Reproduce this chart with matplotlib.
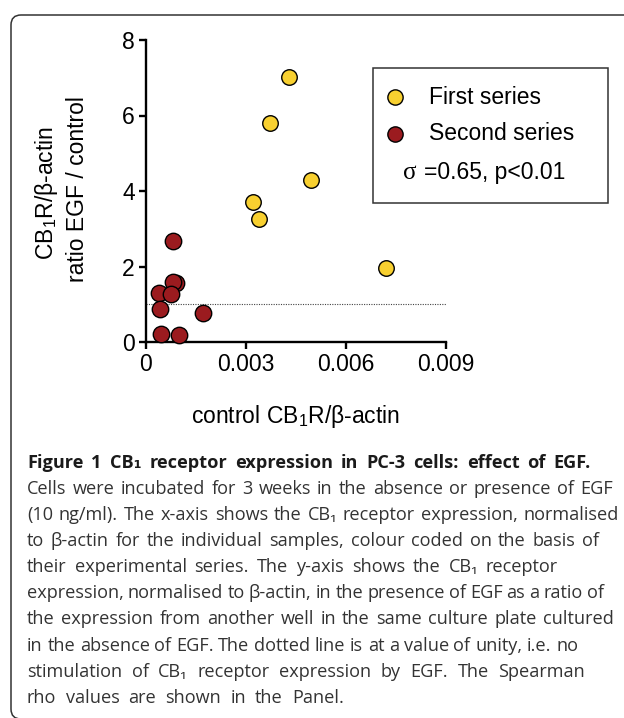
import matplotlib
matplotlib.use("Agg")
import matplotlib.pyplot as plt
from matplotlib.patches import FancyBboxPatch, Rectangle
from matplotlib.lines import Line2D
from matplotlib.transforms import IdentityTransform

plt.rcParams['font.family'] = ['Liberation Sans', 'DejaVu Sans']
plt.rcParams['mathtext.fontset'] = 'custom'
plt.rcParams['mathtext.rm'] = 'Liberation Sans'
plt.rcParams['mathtext.it'] = 'Liberation Sans:italic'

# data
first_x = [0.00428, 0.00371, 0.00494, 0.00320, 0.00338, 0.00720]
first_y = [7.03, 5.79, 4.28, 3.72, 3.25, 1.96]
second_x = [0.00081, 0.00090, 0.00082, 0.00040, 0.00076, 0.00042, 0.00170, 0.00044, 0.00098]
second_y = [2.68, 1.55, 1.60, 1.30, 1.27, 0.87, 0.76, 0.22, 0.19]

xticks = [0, 0.003, 0.006, 0.009]
xticklabels = ['0', '0.003', '0.006', '0.009']
yticks = [0, 2, 4, 6, 8]

caption_title = "Figure 1 CB\u2081 receptor expression in PC-3 cells: effect of EGF."
caption_lines = [
    ("Cells were incubated for 3 weeks in the absence or presence of EGF", 613),
    ("(10 ng/ml). The x-axis shows the CB\u2081 receptor expression, normalised", 619),
    ("to \u03b2-actin for the individual samples, colour coded on the basis of", 599),
    ("their experimental series. The y-axis shows the CB\u2081 receptor", 558),
    ("expression, normalised to \u03b2-actin, in the presence of EGF as a ratio of", 604),
    ("the expression from another well in the same culture plate cultured", 614),
    ("in the absence of EGF. The dotted line is at a value of unity, i.e. no", 578),
    ("stimulation of CB\u2081 receptor expression by EGF. The Spearman", 585),
    ("rho values are shown in the Panel.", 344),
]

W, H = 624, 718
fig = plt.figure(figsize=(W / 100, H / 100), dpi=100)


def fx(x):
    return x / W


def fy(y):
    return 1 - y / H


# outer panel frame
frame = FancyBboxPatch((11, -1), 700, 704, boxstyle="round,pad=0,rounding_size=10",
                       transform=IdentityTransform(), fc='none', ec='#333333', lw=1.1)
fig.add_artist(frame)

ax = fig.add_axes([fx(146), fy(342), 300 / W, 302 / H])
ax.set_xlim(0, 0.009)
ax.set_ylim(0, 8)
for s in ['top', 'right']:
    ax.spines[s].set_visible(False)
for s in ['left', 'bottom']:
    ax.spines[s].set_linewidth(1.7)
ax.set_xticks(xticks)
ax.set_xticklabels(xticklabels)
ax.set_yticks(yticks)
ax.tick_params(width=1.7, length=5, labelsize=16.5, pad=3)

ax.axhline(1, ls=(0, (1, 1.2)), color='#444444', lw=0.8, zorder=1)
ax.scatter(first_x, first_y, s=125, c='#F8D030', edgecolors='black', linewidths=1.0,
           zorder=3, clip_on=False)
ax.scatter(second_x, second_y, s=140, c='#9B1B1F', edgecolors='black', linewidths=1.0,
           zorder=3, clip_on=False)

# axis labels
fig.text(fx(46), fy(193), "$\\mathrm{CB_1}$R/\u03b2-actin", rotation=90, ha='center',
         va='center', fontsize=16.5)
fig.text(fx(77), fy(189), "ratio EGF / control", rotation=90, ha='center',
         va='center', fontsize=16.5)
fig.text(fx(296), fy(416), "control $\\mathrm{CB_1}$R/\u03b2-actin", ha='center',
         va='center', fontsize=16.5)

# legend panel
fig.add_artist(Rectangle((fx(373), fy(203)), (608 - 373) / W, (203 - 68) / H,
                         transform=fig.transFigure, fc='white', ec='#333333', lw=1.1))
fig.add_artist(Line2D([fx(395)], [fy(97)], marker='o', ms=11, mfc='#F8D030', mec='black',
                      mew=1.0, transform=fig.transFigure))
fig.add_artist(Line2D([fx(395)], [fy(134)], marker='o', ms=11, mfc='#9B1B1F', mec='black',
                      mew=1.0, transform=fig.transFigure))
fig.text(fx(429), fy(97), "First series", ha='left', va='center', fontsize=16.5)
fig.text(fx(429), fy(134), "Second series", ha='left', va='center', fontsize=16.5)
fig.text(fx(410), fy(173), "\u03c3", ha='center', va='center', fontsize=18,
         family='Liberation Serif')
fig.text(fx(424), fy(173), "=0.65, p<0.01", ha='left', va='center', fontsize=16.5)

# caption, word spacing stretched to the measured line ends
renderer = fig.canvas.get_renderer()
cap_font = ['Open Sans', 'DejaVu Sans']


def fit_size(text, width, **kw):
    t = fig.text(0, 0, text, fontsize=12, **kw)
    w = t.get_window_extent(renderer).width
    t.remove()
    return 12 * width / w


def put_line(text, x0, x1, ybase, **kw):
    words = text.split(' ')
    arts = [fig.text(0, 0, w, va='baseline', ha='left', **kw) for w in words]
    widths = [a.get_window_extent(renderer).width for a in arts]
    gap = (x1 - x0 - sum(widths)) / max(len(words) - 1, 1)
    x = x0
    for a, wd in zip(arts, widths):
        a.set_position((fx(x), fy(ybase)))
        x += wd + gap


body_size = 0.97 * fit_size(caption_lines[0][0], 583, family=cap_font)
title_size = min(body_size, fit_size(caption_title, 560, family=cap_font, fontweight='bold'))

put_line(caption_title, 27, 591, 468, fontsize=title_size, fontweight='bold',
         family=cap_font, color='#1a1a1a')
for i, (line, xend) in enumerate(caption_lines):
    put_line(line, 27, xend, 494 + i * 26.1, fontsize=body_size, family=cap_font,
             color='#333333')

fig.savefig('out.png', dpi=100)
